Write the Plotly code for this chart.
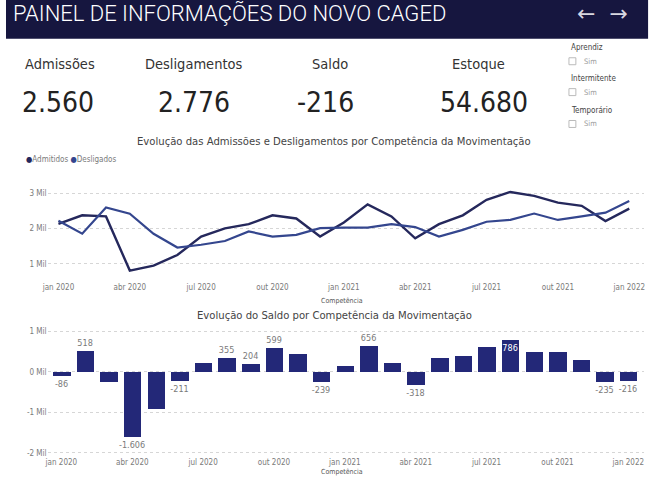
import plotly.graph_objects as go

W, H = 657, 480

# ---------------- data ----------------
meses = ["jan 2020", "fev 2020", "mar 2020", "abr 2020", "mai 2020", "jun 2020",
         "jul 2020", "ago 2020", "set 2020", "out 2020", "nov 2020", "dez 2020",
         "jan 2021", "fev 2021", "mar 2021", "abr 2021", "mai 2021", "jun 2021",
         "jul 2021", "ago 2021", "set 2021", "out 2021", "nov 2021", "dez 2021",
         "jan 2022"]
admitidos = [2130, 2370, 2340, 810, 950, 1250, 1770, 2000, 2120, 2370, 2280, 1770,
             2170, 2680, 2340, 1720, 2120, 2370, 2810, 3030, 2920, 2730, 2640, 2210,
             2560]
desligados = [2216, 1852, 2590, 2416, 1850, 1461, 1540, 1645, 1916, 1771, 1820, 2009,
              2020, 2024, 2120, 2038, 1770, 1960, 2190, 2244, 2420, 2240, 2340, 2445,
              2776]
saldo = [-86, 518, -250, -1606, -900, -211, 230, 355, 204, 599, 460, -239,
         150, 656, 220, -318, 350, 410, 620, 786, 500, 490, 300, -235, -216]
saldo_labels = ["-86", "518", "", "-1.606", "", "-211", "", "355", "204", "599", "", "-239",
                "", "656", "", "-318", "", "", "", "786", "", "", "", "-235", "-216"]
xtick_idx = [0, 3, 6, 9, 12, 15, 18, 21, 24]
xtick_text = ["jan 2020", "abr 2020", "jul 2020", "out 2020", "jan 2021",
              "abr 2021", "jul 2021", "out 2021", "jan 2022"]
ytick_line_vals = [1000, 2000, 3000]
ytick_line_text = ["1 Mil", "2 Mil", "3 Mil"]
ytick_bar_vals = [-2000, -1000, 0, 1000]
ytick_bar_text = ["-2 Mil", "-1 Mil", "0 Mil", "1 Mil"]

kpi_names = ["Admissões", "Desligamentos", "Saldo", "Estoque"]
kpi_values = ["2.560", "2.776", "-216", "54.680"]
slicers = ["Aprendiz", "Intermitente", "Temporário"]

# ---------------- style ----------------
NAVY_HDR = "#16163f"
C_ADM = "#25285c"
C_DES = "#34468e"
C_BAR = "#232878"
GRAY = "#7a7a7a"
FONT = "DejaVu Sans Condensed, Roboto, sans-serif"

def fx(px):
    return px / W

def fy(py):
    return 1 - py / H

idx = list(range(len(meses)))

fig = go.Figure()
fig.add_trace(go.Scatter(x=idx, y=admitidos, mode="lines", name="Admitidos",
                         line=dict(color=C_ADM, width=2.4), xaxis="x", yaxis="y",
                         hovertext=meses))
fig.add_trace(go.Scatter(x=idx, y=desligados, mode="lines", name="Desligados",
                         line=dict(color=C_DES, width=2.2), xaxis="x", yaxis="y",
                         hovertext=meses))

txtpos = ["inside" if l == "786" else "outside" for l in saldo_labels]
txtcol = ["white" if l == "786" else GRAY for l in saldo_labels]
fig.add_trace(go.Bar(x=idx, y=saldo, width=0.74, marker=dict(color=C_BAR, line=dict(width=0)),
                     text=saldo_labels, textposition=txtpos, insidetextanchor="end",
                     textangle=0, constraintext="none",
                     textfont=dict(size=9, color=txtcol, family=FONT), cliponaxis=False,
                     xaxis="x2", yaxis="y2", showlegend=False, hovertext=meses))

axis_common = dict(showline=False, zeroline=False, ticks="",
                   tickfont=dict(size=8, color=GRAY, family=FONT))

fig.update_layout(
    width=W, height=H, margin=dict(l=0, r=0, t=0, b=0),
    paper_bgcolor="white", plot_bgcolor="white",
    showlegend=False, bargap=0,
    font=dict(family=FONT),
    xaxis=dict(domain=[fx(42), fx(645)], range=[-0.4576, 24.625], anchor="y",
               tickmode="array", tickvals=xtick_idx, ticktext=xtick_text,
               showgrid=False, **axis_common),
    yaxis=dict(domain=[fy(282), fy(175)], range=[520, 3530], anchor="x",
               tickmode="array", tickvals=ytick_line_vals, ticktext=ytick_line_text,
               showgrid=True, gridcolor="#d6d6d6", griddash="dot", gridwidth=1,
               **axis_common),
    xaxis2=dict(domain=[fx(42), fx(645)], range=[-0.586, 24.67], anchor="y2",
                tickmode="array", tickvals=xtick_idx, ticktext=xtick_text,
                showgrid=False, **axis_common),
    yaxis2=dict(domain=[fy(458), fy(325)], range=[-2080, 1190], anchor="x2",
                tickmode="array", tickvals=ytick_bar_vals, ticktext=ytick_bar_text,
                showgrid=True, gridcolor="#d6d6d6", griddash="dot", gridwidth=1,
                **axis_common),
)

shapes = [dict(type="rect", xref="paper", yref="paper", x0=0, x1=fx(649),
               y0=fy(39), y1=1, fillcolor=NAVY_HDR, line=dict(width=0), layer="below")]
ann = []

def text(px, py, s, size, color, anchor="center", family=FONT, weight=None, **kw):
    f = dict(size=size, color=color, family=family)
    if weight is not None:
        f["weight"] = weight
    ann.append(dict(xref="paper", yref="paper", x=fx(px), y=fy(py), text=s,
                    showarrow=False, xanchor=anchor, yanchor="middle",
                    font=f, **kw))

# header
text(5, 14, "PAINEL DE INFORMAÇÕES DO NOVO CAGED", 22, "white", anchor="left",
     family="Roboto, sans-serif", weight=300)
text(603, 14, "←  →", 22, "#d8d8e0", family="DejaVu Sans, sans-serif")

# KPIs
kpi_x = [55, 190, 327, 478]
val_x = [53, 190, 323, 483]
for k in range(4):
    text(kpi_x[k], 64, kpi_names[k], 14.5, "#333333")
    text(val_x[k], 103, kpi_values[k], 28, "#222222")

# slicers
sl_y = [48, 79, 111]
for s, yy in zip(slicers, sl_y):
    text(569, yy, s, 8, "#444444", anchor="left")
    shapes.append(dict(type="rect", xref="paper", yref="paper",
                       x0=fx(569), x1=fx(576), y0=fy(yy + 17), y1=fy(yy + 10),
                       line=dict(color="#bbbbbb", width=1), fillcolor="white"))
    text(582, yy + 13.5, "Sim", 7.5, "#999999", anchor="left")

# chart titles
text(332, 142, "Evolução das Admissões e Desligamentos por Competência da Movimentação",
     11.2, "#444444")
text(332, 317, "Evolução do Saldo por Competência da Movimentação", 11.2, "#444444")
text(340, 302, "Competência", 7, "#555555")
text(340, 474, "Competência", 7, "#555555")

# legend
text(18, 160, "<span style='color:%s'>●</span>Admitidos <span style='color:%s'>●</span>Desligados"
     % (C_ADM, C_DES), 8, GRAY, anchor="left")

fig.update_layout(shapes=shapes, annotations=ann)
fig.write_html("out.html", post_script="document.body.style.margin='0';")
